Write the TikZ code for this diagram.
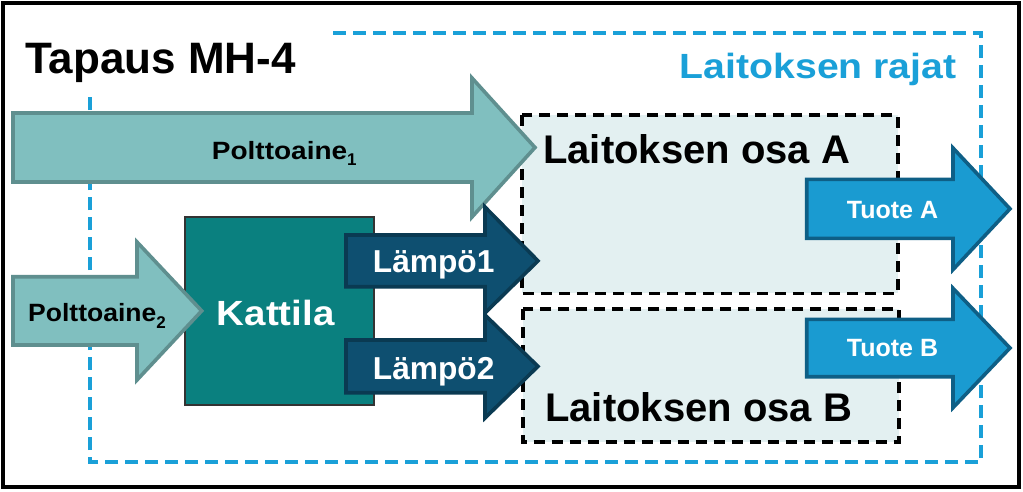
\documentclass[tikz,border=0pt]{standalone}
\usepackage{fontspec}
\setmainfont{Liberation Sans}
\definecolor{fuelfill}{HTML}{80BFBF}
\definecolor{fuelline}{HTML}{5F8F8F}
\definecolor{boilerfill}{HTML}{0A807F}
\definecolor{heatfill}{HTML}{0E4F70}
\definecolor{heatline}{HTML}{0A3A52}
\definecolor{prodfill}{HTML}{1A9BD1}
\definecolor{prodline}{HTML}{0E5F86}
\definecolor{boundblue}{HTML}{1AA0D8}
\definecolor{partfill}{HTML}{E3F0F1}
\newcommand{\fs}[1]{\fontsize{#1}{#1}\selectfont}
\newcommand{\flowarrow}[8]{% style, xleft, xbase, xtip, ybodytop, ybodybot, yheadtop, yheadbot
  \draw[#1] (#2,#5) -- (#3,#5) -- (#3,#7) -- (#4,{(#5+#6)/2}) -- (#3,#8) -- (#3,#6) -- (#2,#6) -- cycle;}
\begin{document}
\begin{tikzpicture}[x=1pt,y=-1pt,
  fuelarrow/.style={fill=fuelfill,draw=fuelline,line width=3.6pt,line join=miter},
  heatarrow/.style={fill=heatfill,draw=heatline,line width=3.6pt,line join=miter},
  prodarrow/.style={fill=prodfill,draw=prodline,line width=3.6pt,line join=miter},
  partbox/.style={fill=partfill,draw=black,line width=3.6pt,dash pattern=on 11pt off 7pt},
  bound/.style={draw=boundblue,line width=3.4pt,dash pattern=on 13pt off 7pt},
  lbl/.style={inner sep=0pt,font=\bfseries},
]
\useasboundingbox (0,0) rectangle (1023,491);
\fill[white] (0,0) rectangle (1023,491);
% plant boundary
\coordinate (bA) at (333,33);
\coordinate (bB) at (981,33);
\coordinate (bC) at (981,462);
\coordinate (bD) at (90,462);
\coordinate (bE) at (90,97);
\draw[bound] (bA) -- (bB) -- (bC) -- (bD) -- (bE);
% parts
\draw[partbox] (521.7,115) rectangle (897.7,293.3);
\draw[partbox] (522.7,309) rectangle (899,442);
\node[lbl,anchor=base west] (osaA) at (543,163.3) {\fs{40}Laitoksen osa A};
\node[lbl,anchor=base west] (osaB) at (545,421.7) {\fs{40}Laitoksen osa B};
% boiler
\node[draw=black!80,line width=1.8pt,fill=boilerfill,minimum width=188.7pt,minimum height=188pt,anchor=north west,inner sep=0pt] (kattila) at (184,216) {};
\node[lbl,anchor=base west,text=white] (kattilaT) at (216.7,325) {\fs{35}\scalebox{1.1}[1]{Kattila}};
% fuel arrows
\flowarrow{fuelarrow}{13}{472}{535}{113}{182}{78}{217}
\node[lbl,anchor=base west] (p1) at (211.7,159.3) {\fs{25}\scalebox{1.12}[1]{Polttoaine}\raisebox{-6.5pt}{\fs{17}1}};
\flowarrow{fuelarrow}{13}{137}{201.7}{276.7}{345}{242}{380}
\node[lbl,anchor=base west] (p2) at (28,321.7) {\fs{25}\scalebox{1.06}[1]{Polttoaine}\raisebox{-6.5pt}{\fs{17}2}};
% heat arrows
\flowarrow{heatarrow}{346}{485}{538}{235}{286.7}{207}{313}
\node[lbl,anchor=base west,text=white] (l1) at (372.7,272.7) {\fs{31.7}Lämpö1};
\flowarrow{heatarrow}{346}{485}{538}{340}{392.7}{315}{418}
\node[lbl,anchor=base west,text=white] (l2) at (372.7,379) {\fs{31.7}Lämpö2};
% product arrows
\flowarrow{prodarrow}{806.7}{953}{1010}{179.3}{238.3}{148}{269.6}
\node[lbl,anchor=base west,text=white] (tA) at (846.7,218) {\fs{25}Tuote A};
\flowarrow{prodarrow}{806.7}{953}{1010}{319.3}{376.7}{288.3}{407.7}
\node[lbl,anchor=base west,text=white] (tB) at (846.7,356.7) {\fs{25}Tuote B};
% titles
\node[lbl,anchor=base west] (title) at (25,73.3) {\fs{44}Tapaus MH-4};
\node[lbl,anchor=base east,text=boundblue] (rajat) at (956.7,78.3) {\fs{35}\scalebox{1.12}[1]{Laitoksen rajat}};
% frame
\draw[black,line width=4pt] (2.5,2.5) rectangle (1019,487);
\end{tikzpicture}
\end{document}
